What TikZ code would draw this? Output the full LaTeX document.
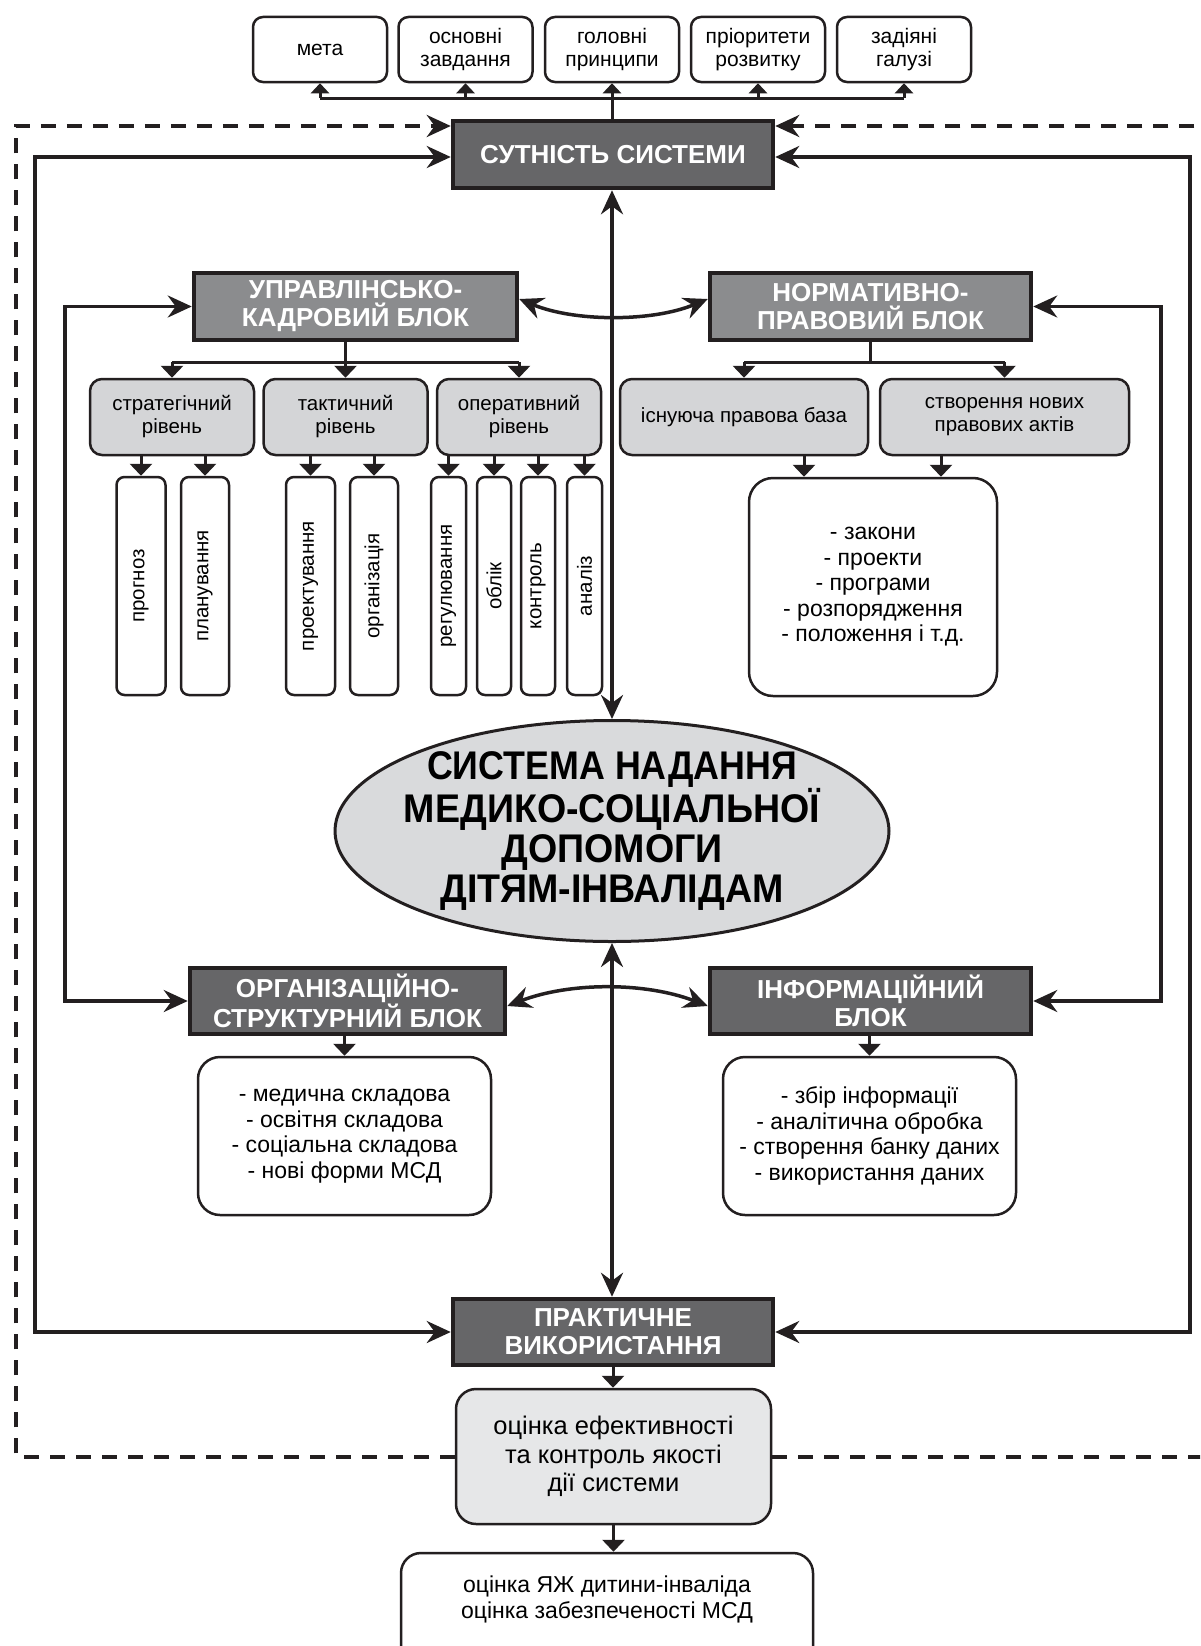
\documentclass[tikz,border=0pt]{standalone}
\usepackage{fontspec}
\setmainfont{Liberation Sans}
\newfontfamily\condfont[FakeStretch=0.94]{Liberation Sans}
\newfontfamily\condfontB[FakeStretch=0.895]{Liberation Sans}
\usetikzlibrary{arrows.meta,shapes.geometric}
\definecolor{darkbox}{HTML}{666668}
\definecolor{midbox}{HTML}{8B8C8E}
\definecolor{lvl}{HTML}{D4D5D7}
\definecolor{evalc}{HTML}{E6E7E8}
\definecolor{ellc}{HTML}{D9DADC}
\definecolor{ink}{HTML}{231F20}
\tikzset{
  topbox/.style={draw=ink, line width=2.5pt, rounded corners=10pt, minimum width=134pt, minimum height=65pt, inner sep=0pt, align=center, font=\fontsize{21}{23}\selectfont},
  head/.style={draw=ink, line width=4.5pt, fill=darkbox, text=white, inner sep=0pt, align=center, font=\fontsize{26}{28}\selectfont\bfseries},
  headmid/.style={head, fill=midbox},
  lvlbox/.style={draw=ink, line width=2.5pt, rounded corners=12pt, fill=lvl, minimum height=76pt, inner sep=0pt, align=center, font=\fontsize{20.5}{23}\selectfont},
  tallbox/.style={draw=ink, line width=2.5pt, rounded corners=8pt, rotate=90, minimum width=218pt, inner sep=0pt, font=\fontsize{20.5}{23}\selectfont},
  listbox/.style={draw=ink, line width=2.5pt, rounded corners=24pt, inner sep=0pt, align=center, font=\fontsize{23}{25.5}\selectfont},
  conn/.style={draw=ink, line width=3.5pt},
  thinconn/.style={draw=ink, line width=3pt},
  dbl/.style={{Stealth[length=24pt,width=22pt,inset=8pt]}-{Stealth[length=24pt,width=22pt,inset=8pt]}},
  bigtip/.style={-{Stealth[length=24pt,width=22pt,inset=8pt]}},
  smalltip/.style={thinconn, -{Triangle[length=12pt,width=22pt]}},
  uptip/.style={thinconn, -{Triangle[length=10pt,width=18pt]}},
  dashline/.style={draw=ink, line width=4pt, dash pattern=on 15pt off 11pt},
}
\begin{document}
\begin{tikzpicture}[x=1pt,y=-1pt]
\useasboundingbox (0,0) rectangle (1200,1646);
\clip (0,0) rectangle (1200,1646);
\fill[white] (0,0) rectangle (1200,1646);

% top boxes
\node[topbox] (t1) at (320,49.5) {мета};
\node[topbox] (t2) at (465.5,49.5) {основні\\завдання};
\node[topbox] (t3) at (612,49.5) {головні\\принципи};
\node[topbox] (t4) at (758,49.5) {пріоритети\\розвитку};
\node[topbox] (t5) at (904,49.5) {задіяні\\галузі};

% headings
\node[head, minimum width=320pt, minimum height=67pt] (sut) at (613,154.5) {СУТНІСТЬ СИСТЕМИ};
\node[headmid, minimum width=323pt, minimum height=67pt] (upr) at (355.5,306.5) {УПРАВЛІНСЬКО-\\КАДРОВИЙ БЛОК};
\node[headmid, minimum width=321pt, minimum height=67pt] (norm) at (870.5,306.5) {НОРМАТИВНО-\\ПРАВОВИЙ БЛОК};
\node[head, minimum width=315pt, minimum height=66pt] (org) at (347.5,1001) {ОРГАНІЗАЦІЙНО-\\СТРУКТУРНИЙ БЛОК};
\node[head, minimum width=321pt, minimum height=66pt] (inf) at (870.5,1001) {ІНФОРМАЦІЙНИЙ\\БЛОК};
\node[head, minimum width=320pt, minimum height=66pt] (prak) at (613,1332) {ПРАКТИЧНЕ\\ВИКОРИСТАННЯ};

% level boxes
\node[lvlbox, minimum width=164pt] (l1) at (172,417) {стратегічний\\рівень};
\node[lvlbox, minimum width=164pt] (l2) at (345.5,417) {тактичний\\рівень};
\node[lvlbox, minimum width=164pt] (l3) at (519,417) {оперативний\\рівень};
\node[lvlbox, minimum width=248pt] (r1) at (744,417) {існуюча правова база};
\node[lvlbox, minimum width=249pt] (r2) at (1004.5,417) {створення нових\\правових актів};

% tall boxes
\node[tallbox, minimum height=49pt] (v1) at (141,586) {прогноз};
\node[tallbox, minimum height=48pt] (v2) at (205,586) {планування};
\node[tallbox, minimum height=49pt] (v3) at (310.5,586) {проектування};
\node[tallbox, minimum height=48pt] (v4) at (374,586) {організація};
\node[tallbox, minimum height=35pt] (v5) at (448.5,586) {регулювання};
\node[tallbox, minimum height=34pt] (v6) at (494,586) {облік};
\node[tallbox, minimum height=34pt] (v7) at (538,586) {контроль};
\node[tallbox, minimum height=35pt] (v8) at (584.5,586) {аналіз};

% laws box
\node[listbox, minimum width=248pt, minimum height=218pt] (laws) at (873,587) {- закони\\- проекти\\- програми\\- розпорядження\\- положення і т.д.};

% ellipse
\node[ellipse, draw=ink, line width=3pt, fill=ellc, minimum width=554pt, minimum height=221pt, inner sep=0pt] (ell) at (612,831) {};
\node[align=center, inner sep=0pt, font=\condfont\bfseries\fontsize{40}{39.7}\selectfont] (elltxt) at (ell.center) {{\condfontB\bfseries СИСТЕМА НАДАННЯ}\\МЕДИКО-СОЦІАЛЬНОЇ\\ДОПОМОГИ\\ДІТЯМ-ІНВАЛІДАМ};

% lower list boxes
\node[listbox, rounded corners=22pt, minimum width=293pt, minimum height=158pt] (med) at (344.5,1136) {- медична складова\\- освітня складова\\- соціальна складова\\- нові форми МСД};
\node[listbox, rounded corners=22pt, minimum width=293pt, minimum height=158pt] (zb) at (869.5,1136) {- збір інформації\\- аналітична обробка\\- створення банку даних\\- використання даних};

% evaluation
\node[listbox, fill=evalc, rounded corners=20pt, minimum width=315pt, minimum height=135pt, font=\fontsize{25.5}{28.5}\selectfont] (ev) at (613.5,1456.5) {оцінка ефективності\\та контроль якості\\дії системи};

% bottom box
\node[draw=ink, line width=2.5pt, rounded corners=20pt, minimum width=412pt, minimum height=134pt, inner sep=0pt] (bot) at (607,1620) {};
\node[align=center, inner sep=0pt, font=\fontsize{23}{26}\selectfont] (bottxt) at (607,1599) {оцінка ЯЖ дитини-інваліда\\оцінка забезпеченості МСД};

% coordinates
\coordinate (bus) at (0,98);
\coordinate (lbus) at (0,362);
\coordinate (la) at (804,0);
\coordinate (lb) at (941,0);
\coordinate (dtop) at (0,126);
\coordinate (stop) at (0,157);
\coordinate (dashL) at (16,0);
\coordinate (dashR) at (1215,0);
\coordinate (outL) at (35,0);
\coordinate (outR) at (1190,0);
\coordinate (inL) at (65,0);
\coordinate (inR) at (1161,0);

% top bus
\draw[uptip] (t3.south |- sut.north) -- (t3.south);
\draw[thinconn] (t1.south |- bus) -- (t5.south |- bus);
\foreach \t in {t1,t2,t4,t5} \draw[uptip] (\t.south |- bus) -- (\t.south);

% dashed loop
\draw[dashline, bigtip] (ev.west) -- (ev.west -| dashL) |- (sut.west |- dtop);
\draw[dashline, bigtip] (ev.east) -- (ev.east -| dashR) |- (sut.east |- dtop);

% outer solid loop
\draw[conn, dbl] (sut.west |- stop) -| (outL |- prak.west) -- (prak.west);
\draw[conn, dbl] (sut.east |- stop) -| (outR |- prak.east) -- (prak.east);

% inner loops
\draw[conn, dbl] (upr.west) -| (inL |- org.west) -- (org.west);
\draw[conn, dbl] (norm.east) -| (inR |- inf.east) -- (inf.east);

% main vertical
\draw[conn, dbl] (sut.south -| ell.north) -- (ell.north);
\draw[conn, dbl] (ell.south) -- (ell.south |- prak.north);

% curved double arrows
\draw[conn, dbl] (upr.east |- 0,299) .. controls (575,322) and (652,322) .. (norm.west |- 0,299);
\draw[conn, dbl] (org.east |- 0,1006) .. controls (570,982) and (645,982) .. (inf.west |- 0,1006);

% left level bus
\draw[smalltip] (l2.north |- upr.south) -- (l2.north);
\draw[thinconn] (l1.north |- lbus) -- (l3.north |- lbus);
\draw[smalltip] (l1.north |- lbus) -- (l1.north);
\draw[smalltip] (l3.north |- lbus) -- (l3.north);

% right level bus
\draw[thinconn] (norm.south) -- (norm.south |- lbus);
\draw[thinconn] (r1.north |- lbus) -- (r2.north |- lbus);
\draw[smalltip] (r1.north |- lbus) -- (r1.north);
\draw[smalltip] (r2.north |- lbus) -- (r2.north);

% level to tall boxes
\draw[smalltip] (v1.center |- l1.south) -- (v1.east);
\draw[smalltip] (v2.center |- l1.south) -- (v2.east);
\draw[smalltip] (v3.center |- l2.south) -- (v3.east);
\draw[smalltip] (v4.center |- l2.south) -- (v4.east);
\draw[smalltip] (v5.center |- l3.south) -- (v5.east);
\draw[smalltip] (v6.center |- l3.south) -- (v6.east);
\draw[smalltip] (v7.center |- l3.south) -- (v7.east);
\draw[smalltip] (v8.center |- l3.south) -- (v8.east);

% to laws box
\draw[smalltip] (la |- r1.south) -- (la |- laws.north);
\draw[smalltip] (lb |- r2.south) -- (lb |- laws.north);

% lower
\draw[smalltip] (med.north |- org.south) -- (med.north);
\draw[smalltip] (zb.north |- inf.south) -- (zb.north);
\draw[smalltip] (prak.south) -- (prak.south |- ev.north);
\draw[smalltip] (ev.south) -- (ev.south |- bot.north);
\end{tikzpicture}
\end{document}
